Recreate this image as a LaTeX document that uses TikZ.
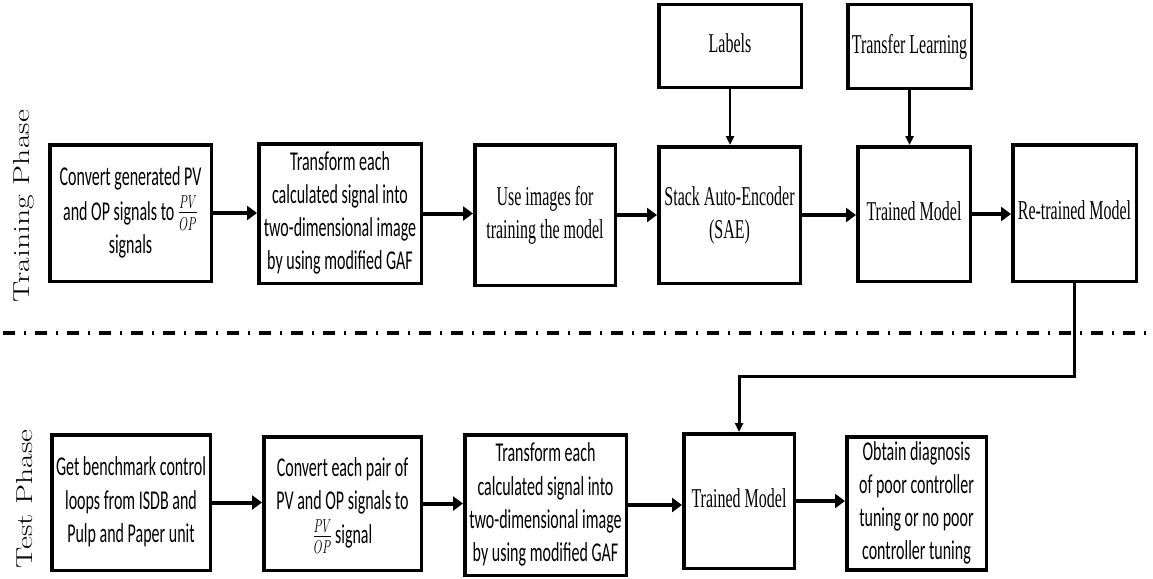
\documentclass[tikz,border=0pt]{standalone}
\usepackage{fontspec}
\usepackage{graphicx}
\usetikzlibrary{arrows.meta}
\newfontfamily\calfont{Carlito}
\newfontfamily\timesfont{Liberation Serif}
% text blocks are set tall and narrow
\newcommand{\tallblock}[1]{\scalebox{1}[1.7]{\begin{tabular}{@{}c@{}}#1\end{tabular}}}
\newcommand{\phaselabel}[1]{\scalebox{1.38}[1]{\addfontfeatures{FakeBold=0.8}\fontsize{23}{26}\selectfont #1}}
\begin{document}
\begin{tikzpicture}[x=1pt,y=-1pt,
  box/.style={draw, line width=3.5pt, inner sep=0pt, align=center},
  calbox/.style={box, font=\calfont\fontsize{16}{19.5}\selectfont},
  timbox/.style={box, font=\timesfont\fontsize{16}{19.5}\selectfont},
  flow/.style={line width=4pt, -{Triangle[length=10pt,width=14pt]}},
  feed/.style={line width=2.6pt, -{Triangle[length=9pt,width=8pt]}},
  phase/.style={rotate=90, anchor=base, inner sep=0pt}]
\useasboundingbox (0,0) rectangle (1153,578);

% phase labels
\node[phase] (trainlbl) at (29,206) {\phaselabel{Training Phase}};
\node[phase] (testlbl) at (32,499) {\phaselabel{Test Phase}};

% training phase
\node[calbox, minimum width=161.5pt, minimum height=136.5pt] (t1) at (130.5,213)
  {\tallblock{Convert generated PV\\ and OP signals to $\frac{PV}{OP}$\\ signals}};
\node[calbox, minimum width=162.5pt, minimum height=139.5pt] (t2) at (340,213.5)
  {\tallblock{Transform each\\ calculated signal into\\ two-dimensional image\\ by using modified GAF}};
\node[timbox, minimum width=140.5pt, minimum height=140.5pt] (t3) at (545,215)
  {\raisebox{6pt}{\tallblock{Use images for\\ training the model}}};
\node[timbox, minimum width=141.5pt, minimum height=136.5pt] (t4) at (729.5,215)
  {\tallblock{Stack Auto-Encoder\\ (SAE)}};
\node[timbox, minimum width=112.5pt, minimum height=134.5pt] (t5) at (914,214)
  {\tallblock{Trained Model}};
\node[timbox, minimum width=123.5pt, minimum height=136.5pt] (t6) at (1074.5,213)
  {\tallblock{Re-trained Model}};
\node[timbox, minimum width=142.5pt, minimum height=82.5pt] (labels) at (730,46)
  {\tallblock{Labels}};
\node[timbox, minimum width=123.5pt, minimum height=83.5pt] (transfer) at (909.5,46.5)
  {\tallblock{Transfer Learning}};

% test phase
\node[calbox, minimum width=158.5pt, minimum height=135.5pt] (s1) at (131,502.5)
  {\tallblock{Get benchmark control\\ loops from ISDB and\\ Pulp and Paper unit}};
\node[calbox, minimum width=157.5pt, minimum height=133.5pt] (s2) at (342.5,503.5)
  {\tallblock{Convert each pair of\\ PV and OP signals to\\ $\frac{PV}{OP}$\,signal}};
\node[calbox, minimum width=161.5pt, minimum height=140.5pt] (s3) at (545.5,505)
  {\tallblock{Transform each\\ calculated signal into\\ two-dimensional image\\ by using modified GAF}};
\node[timbox, minimum width=110.5pt, minimum height=134.5pt] (s4) at (739,501)
  {\tallblock{Trained Model}};
\node[calbox, minimum width=139.5pt, minimum height=129.5pt] (s5) at (916.5,503.5)
  {\raisebox{-6pt}{\tallblock{Obtain diagnosis\\ of poor controller\\ tuning or no poor\\ controller tuning}}};

% separator between the two phases
\coordinate (sepL) at (3,333);
\coordinate (sepR) at (1153,333);
\draw[line width=4pt, dash pattern=on 12pt off 9pt on 2pt off 9pt] (sepL) -- (sepR);

% training flow
\draw[flow] (t1.east) -- (t1.east -| t2.west);
\draw[flow] (t2.east) -- (t2.east -| t3.west);
\draw[flow] (t3.east) -- (t3.east -| t4.west);
\draw[flow] (t4.east) -- (t4.east -| t5.west);
\draw[flow] (t5.east) -- (t5.east -| t6.west);
\draw[feed] (labels.south) -- (labels.south |- t4.north);
\draw[feed] (transfer.south) -- (transfer.south |- t5.north);

% re-trained model handed to the test phase
\coordinate (bend) at (0,376);
\draw[feed, line width=3pt] (t6.south) -- (t6.south |- bend) -- (s4.north |- bend) -- (s4.north);

% test flow
\draw[flow] (s1.east) -- (s1.east -| s2.west);
\draw[flow] (s2.east) -- (s2.east -| s3.west);
\draw[flow] (s3.east) -- (s3.east -| s4.west);
\draw[flow] (s4.east) -- (s4.east -| s5.west);
\end{tikzpicture}
\end{document}
